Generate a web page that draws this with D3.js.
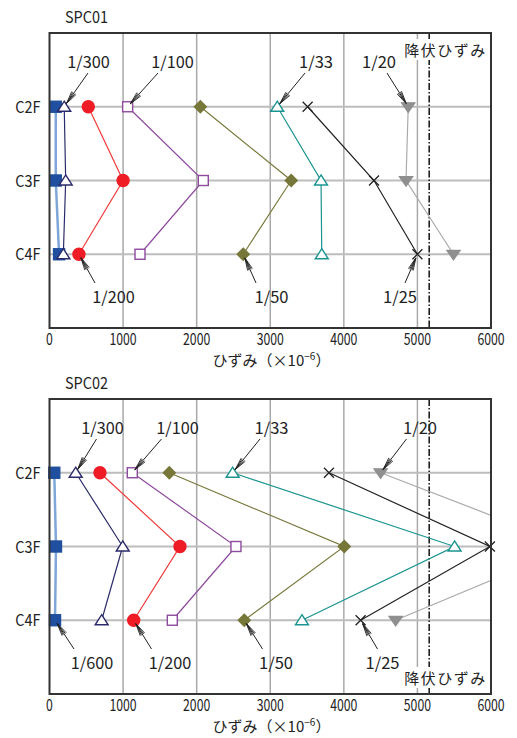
<!DOCTYPE html>
<html><head><meta charset="utf-8">
<script src="https://cdn.jsdelivr.net/npm/d3@7"></script>
<style>body{margin:0;background:#fff;} text{font-family:"Noto Sans CJK JP","Noto Sans",sans-serif;fill:#222;}</style>
</head><body><svg id="c" width="517" height="738"></svg>
<script>
// ---------- data ----------
const floors = ["C2F", "C3F", "C4F"];
const drifts = ["1/600", "1/300", "1/200", "1/100", "1/50", "1/33", "1/25", "1/20"];
const xTicks = [0, 1000, 2000, 3000, 4000, 5000, 6000];
const yieldStrain = 5160;
const yieldLabel = "降伏ひずみ";
const specimens = ["SPC01", "SPC02"];

// strain (×10^-6) for C2F, C3F, C4F
const spc01_600 = [85, 85, 130];
const spc01_300 = [200, 220, 188];
const spc01_200 = [527, 1000, 400];
const spc01_100 = [1062, 2090, 1230];
const spc01_50  = [2050, 3285, 2633];
const spc01_33  = [3095, 3690, 3700];
const spc01_25  = [3508, 4410, 5000];
const spc01_20  = [4875, 4845, 5490];

const spc02_600 = [65, 88, 75];
const spc02_300 = [356, 995, 709];
const spc02_200 = [686, 1773, 1144];
const spc02_100 = [1125, 2534, 1669];
const spc02_50  = [1628, 4006, 2647];
const spc02_33  = [2489, 5505, 3431];
const spc02_25  = [3798, 5985, 4228];
const spc02_20  = [4500, 7100, 4704];

const spc01Series = [spc01_600, spc01_300, spc01_200, spc01_100, spc01_50, spc01_33, spc01_25, spc01_20];
const spc02Series = [spc02_600, spc02_300, spc02_200, spc02_100, spc02_50, spc02_33, spc02_25, spc02_20];

// annotations: which drift label points at which floor
const spc01Notes = [
  {drift: "1/300", floor: "C2F"}, {drift: "1/100", floor: "C2F"}, {drift: "1/33", floor: "C2F"}, {drift: "1/20", floor: "C2F"},
  {drift: "1/200", floor: "C4F"}, {drift: "1/50", floor: "C4F"}, {drift: "1/25", floor: "C4F"}
];
const spc02Notes = [
  {drift: "1/300", floor: "C2F"}, {drift: "1/100", floor: "C2F"}, {drift: "1/33", floor: "C2F"}, {drift: "1/20", floor: "C2F"},
  {drift: "1/600", floor: "C4F"}, {drift: "1/200", floor: "C4F"}, {drift: "1/50", floor: "C4F"}, {drift: "1/25", floor: "C4F"}
];

// ---------- layout / style ----------
const styles = {
  "1/600": {shape: "square", fill: "#1f4f9e", stroke: "#1f4f9e", line: "#7ea6d8", lw: 2.5, size: 11},
  "1/300": {shape: "tri", fill: "#fff", stroke: "#2b2b6b", line: "#2b2b6b", lw: 1.2, size: 13},
  "1/200": {shape: "circle", fill: "#ef1c26", stroke: "#ef1c26", line: "#f03a3a", lw: 1.2, size: 12},
  "1/100": {shape: "square", fill: "#fff", stroke: "#8e4a9e", line: "#8e4a9e", lw: 1.2, size: 10},
  "1/50":  {shape: "diamond", fill: "#77773a", stroke: "#77773a", line: "#7a7a3e", lw: 1.2, size: 12},
  "1/33":  {shape: "tri", fill: "#fff", stroke: "#1a9490", line: "#1a9490", lw: 1.2, size: 13},
  "1/25":  {shape: "x", fill: "none", stroke: "#222", line: "#222", lw: 1.2, size: 10},
  "1/20":  {shape: "tridown", fill: "#8f8f8f", stroke: "#8f8f8f", line: "#aaaaaa", lw: 1.2, size: 13}
};
const panelLayout = [
  {top: 33, notes: {"1/300": [39, 38.5], "1/100": [123, 108.5], "1/33": [266.5, 255.5], "1/20": [329.5, 337.5],
                    "1/200": [64, 45.5], "1/50": [222, 206.5], "1/25": [350.5, 355.5]}, yieldY: 17},
  {top: 399, notes: {"1/300": [53, 47], "1/100": [128, 112], "1/33": [222, 210.5], "1/20": [370.5, 357],
                     "1/600": [42.5, 24.5], "1/200": [120.5, 102], "1/50": [226.5, 213], "1/25": [333, 328]}, yieldY: 279}
];
const left = 49.5, plotW = 441.5, plotH = 295;

const svg = d3.select("#c");

function fitText(sel, perChar) {
  sel.attr("textLength", function(){ return this.textContent.length * perChar; })
     .attr("lengthAdjust", "spacingAndGlyphs");
}

function drawPanel(idx, name, series, notes) {
  const L = panelLayout[idx];
  const g = svg.append("g").attr("transform", `translate(${left},${L.top})`);
  const x = d3.scaleLinear().domain([0, 6000]).range([0, plotW]);
  const y = d3.scalePoint().domain(["", ...floors, " "]).range([0, plotH]);

  const clipId = "clip" + idx;
  g.append("clipPath").attr("id", clipId).append("rect").attr("width", plotW).attr("height", plotH);

  // grid
  g.selectAll(".vg").data(xTicks.slice(1, -1)).join("line")
    .attr("x1", d => x(d)).attr("x2", d => x(d)).attr("y1", 0).attr("y2", plotH)
    .attr("stroke", "#a9a9a9").attr("stroke-width", 1.5);
  g.selectAll(".hg").data(floors).join("line")
    .attr("x1", 0).attr("x2", plotW).attr("y1", d => y(d)).attr("y2", d => y(d))
    .attr("stroke", "#bdbdbd").attr("stroke-width", 2);

  // yield line
  g.append("line").attr("x1", x(yieldStrain)).attr("x2", x(yieldStrain)).attr("y1", 0).attr("y2", plotH)
    .attr("stroke", "#111").attr("stroke-width", 1.5).attr("stroke-dasharray", "7,2,1.5,2");

  // series lines
  const lineGen = d3.line().x(d => x(d[0])).y(d => y(d[1]));
  const lg = g.append("g").attr("clip-path", `url(#${clipId})`);
  drifts.forEach((dr, i) => {
    const pts = series[i].map((v, j) => [v, floors[j]]);
    lg.append("path").attr("d", lineGen(pts)).attr("fill", "none")
      .attr("stroke", styles[dr].line).attr("stroke-width", styles[dr].lw);
  });

  // markers
  const mg = g.append("g");
  drifts.forEach((dr, i) => {
    const s = styles[dr];
    series[i].forEach((v, j) => {
      if (v > 6000) return;
      const cx = x(v), cy = y(floors[j]), r = s.size / 2;
      let el;
      if (s.shape === "square") el = mg.append("rect").attr("x", cx - r).attr("y", cy - r).attr("width", s.size).attr("height", s.size);
      else if (s.shape === "circle") el = mg.append("circle").attr("cx", cx).attr("cy", cy).attr("r", r);
      else if (s.shape === "tri") el = mg.append("path").attr("d", `M${cx},${cy - r * 0.85}L${cx + r},${cy + r * 0.7}L${cx - r},${cy + r * 0.7}Z`);
      else if (s.shape === "tridown") el = mg.append("path").attr("d", `M${cx - r},${cy - r * 0.6}L${cx + r},${cy - r * 0.6}L${cx},${cy + r * 0.85}Z`);
      else if (s.shape === "diamond") el = mg.append("path").attr("d", `M${cx},${cy - r}L${cx + r},${cy}L${cx},${cy + r}L${cx - r},${cy}Z`);
      else if (s.shape === "x") el = mg.append("path").attr("d", `M${cx - r},${cy - r}L${cx + r},${cy + r}M${cx - r},${cy + r}L${cx + r},${cy - r}`);
      el.attr("fill", s.fill).attr("stroke", s.stroke).attr("stroke-width", s.shape === "x" ? 1.3 : 1.4);
    });
  });

  // frame
  g.append("rect").attr("width", plotW).attr("height", plotH).attr("fill", "none")
    .attr("stroke", "#333").attr("stroke-width", 2);

  // axes labels
  g.selectAll(".xt").data(xTicks).join("text")
    .attr("x", d => x(d)).attr("y", plotH + 17).attr("text-anchor", "middle")
    .attr("font-size", 16).text(d => d).call(fitText, 6.8);
  g.selectAll(".yt").data(floors).join("text")
    .attr("x", -9).attr("y", d => y(d) + 6).attr("text-anchor", "end")
    .attr("font-size", 16).text(d => d).call(fitText, 8.4);
  const xt = g.append("text").attr("x", 222).attr("y", plotH + 38).attr("text-anchor", "middle").attr("font-size", 15);
  xt.append("tspan").text("ひずみ（×10");
  xt.append("tspan").attr("font-size", 10).attr("dy", -6).text("−6");
  xt.append("tspan").attr("dy", 6).text("）");

  // title
  svg.append("text").attr("x", 65).attr("y", L.top - 10).attr("font-size", 16).text(name).call(fitText, 8.6);

  // annotations
  const ag = g.append("g");
  notes.forEach(n => {
    const i = drifts.indexOf(n.drift);
    const j = floors.indexOf(n.floor);
    const [lx, sx] = L.notes[n.drift];
    const mx = x(series[i][j]), my = y(n.floor);
    const isTop = j === 0;
    const sy = isTop ? 40 : 250;
    const ly = isTop ? 35 : 270;
    const dx = sx - mx, dy = sy - my, len = Math.hypot(dx, dy);
    const ux = dx / len, uy = dy / len;
    const tx = mx + ux * 4, ty = my + uy * 4;
    ag.append("line").attr("x1", sx).attr("y1", sy).attr("x2", tx).attr("y2", ty)
      .attr("stroke", "#222").attr("stroke-width", 1);
    [-0.2, 0.2, -0.1, 0.1].forEach(a => {
      const ca = Math.cos(a), sa = Math.sin(a);
      const bx = ux * ca - uy * sa, by = ux * sa + uy * ca;
      ag.append("line").attr("x1", tx).attr("y1", ty).attr("x2", tx + bx * 13).attr("y2", ty + by * 13)
        .attr("stroke", "#222").attr("stroke-width", 0.9);
    });
    ag.append("text").attr("x", lx).attr("y", ly).attr("text-anchor", "middle")
      .attr("font-size", 16).text(n.drift).call(fitText, 8.5);
  });

  // yield label
  const yl = g.append("text").attr("x", 396).attr("y", L.yieldY + 6).attr("text-anchor", "middle")
    .attr("font-size", 15).attr("letter-spacing", 1.5).text(yieldLabel);
  const bb = yl.node().getBBox();
  g.insert("rect", () => yl.node()).attr("x", bb.x - 2).attr("y", bb.y).attr("width", bb.width + 2).attr("height", bb.height)
    .attr("fill", "#fff");
}

drawPanel(0, specimens[0], spc01Series, spc01Notes);
drawPanel(1, specimens[1], spc02Series, spc02Notes);
</script></body></html>
